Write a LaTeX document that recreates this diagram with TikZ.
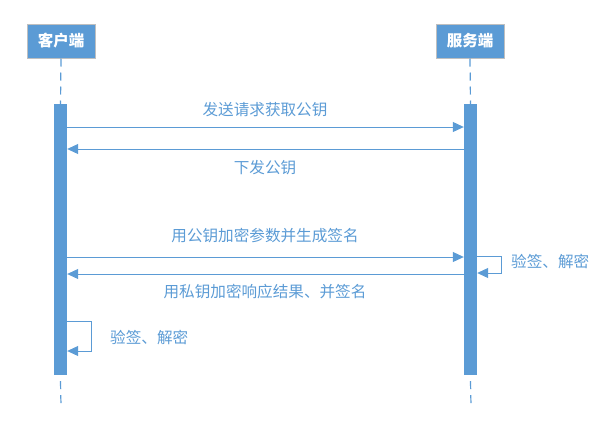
\documentclass[tikz,border=0pt]{standalone}
\usepackage{fontspec}
\newfontfamily\cjk{Noto Sans CJK SC}
\usetikzlibrary{arrows.meta}
\definecolor{sblue}{HTML}{5B9BD5}
\definecolor{sgray}{HTML}{BFBFBF}
\begin{document}
\begin{tikzpicture}[x=1pt,y=-1pt,
  actor/.style={draw=sgray,line width=1pt,fill=sblue,text=white,font=\cjk\bfseries\fontsize{15.5}{16}\selectfont,minimum width=68pt,minimum height=34pt,inner sep=0pt},
  life/.style={draw=sblue,line width=1.2pt,dash pattern=on 8pt off 6pt},
  bar/.style={fill=sblue,draw=none,minimum width=13pt,minimum height=271pt,inner sep=0pt},
  msg/.style={draw=sblue,line width=1pt,-{Triangle[length=11pt,width=10pt]}},
  lbl/.style={text=sblue,font=\cjk\fontsize{15.6}{16}\selectfont,inner sep=0pt}]
\useasboundingbox (0,0) rectangle (610,424);
\node[actor] (c) at (61,41) {客户端};
\node[actor] (s) at (470,41) {服务端};
\node[bar] (cb) at (60.5,239.5) {};
\node[bar] (sb) at (470.5,239.5) {};
\coordinate (cend) at (61,406);
\coordinate (send) at (471,406);
\draw[life] (c.south) -- (cb.north);
\draw[life] (s.south) -- (sb.north);
\draw[life] (cb.south) ++(0,6) -- (cend);
\draw[life] (sb.south) ++(0,6) -- (send);
% messages
\draw[msg] (cb.east |- 0,127) -- (sb.west |- 0,127);
\node[lbl] (l1) at (265,110) {发送请求获取公钥};
\draw[msg] (sb.west |- 0,149) -- (cb.east |- 0,149);
\node[lbl] (l2) at (265,168) {下发公钥};
\draw[msg] (cb.east |- 0,257) -- (sb.west |- 0,257);
\node[lbl] (l3) at (265,236) {用公钥加密参数并生成签名};
\draw[msg] (sb.east |- 0,256) -- (501,256) -- (501,273) -- (sb.east |- 0,273);
\node[lbl,anchor=west] (l4) at (511,262) {验签、解密};
\draw[msg] (sb.west |- 0,274) -- (cb.east |- 0,274);
\node[lbl] (l5) at (265,292) {用私钥加密响应结果、并签名};
\draw[msg] (cb.east |- 0,321) -- (91,321) -- (91,351) -- (cb.east |- 0,351);
\node[lbl,anchor=west] (l6) at (110,338) {验签、解密};
\end{tikzpicture}
\end{document}
